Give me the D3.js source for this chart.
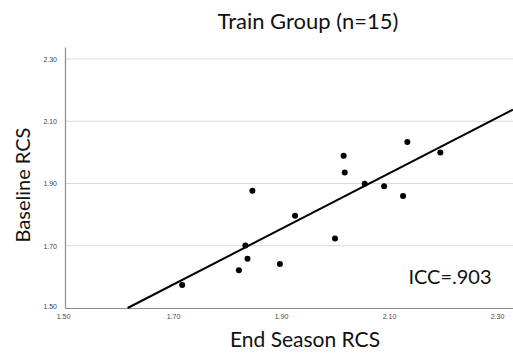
<!DOCTYPE html>
<html>
<head>
<meta charset="utf-8">
<script src="https://cdn.jsdelivr.net/npm/d3@7"></script>
<style>
  body { margin: 0; background: #fff; }
  svg { display: block; }
</style>
</head>
<body>
<svg id="chart"></svg>
<script>
// End season vs baseline RCS, train group
const endSeason = [1.717, 1.822, 1.838, 1.834, 1.847, 1.898, 1.926, 2.000,
  2.018, 2.016, 2.055, 2.091, 2.126, 2.134, 2.195];
const baseline = [1.574, 1.621, 1.658, 1.701, 1.877, 1.641, 1.796, 1.723,
  1.935, 1.989, 1.899, 1.891, 1.860, 2.033, 2.000];
const tickValues = [1.50, 1.70, 1.90, 2.10, 2.30];
const fitSlope = 0.893;
const fitAnchor = [1.616, 1.5];   // point the fit line passes through

const width = 513;
const height = 354;
const plotLeft = 65, plotBottom = 308, plotTop = 47;

const svg = d3.select('#chart')
  .attr('width', width)
  .attr('height', height);

const x = d3.scaleLinear()
  .domain([1.5, 2.3])
  .range([plotLeft, 497]);
const y = d3.scaleLinear()
  .domain([1.5, 2.3])
  .range([plotBottom, 59]);

const xMax = x.invert(width);
const yMax = y.invert(plotTop);

// horizontal grid lines
svg.append('g')
  .selectAll('line')
  .data(tickValues.slice(1))
  .join('line')
  .attr('x1', plotLeft)
  .attr('x2', width)
  .attr('y1', d => y(d))
  .attr('y2', d => y(d))
  .attr('stroke', '#d9d9d9')
  .attr('stroke-width', 1.2);

// axes
const xAxis = svg.append('g')
  .attr('transform', `translate(0, ${plotBottom})`)
  .call(d3.axisBottom(d3.scaleLinear().domain([1.5, xMax]).range([plotLeft, width]))
    .tickValues(tickValues).tickSize(0).tickPadding(6).tickFormat(d3.format('.2f')));
const yAxis = svg.append('g')
  .attr('transform', `translate(${plotLeft}, 0)`)
  .call(d3.axisLeft(d3.scaleLinear().domain([1.5, yMax]).range([plotBottom, plotTop]))
    .tickValues(tickValues).tickSize(0).tickPadding(8).tickFormat(d3.format('.2f')));

[xAxis, yAxis].forEach(g => {
  g.select('.domain').attr('stroke', '#8c8c8c').attr('stroke-width', 1.2);
  g.selectAll('text')
    .attr('font-family', 'Liberation Sans, Arial, sans-serif')
    .attr('font-size', 7)
    .attr('fill', '#444');
});
xAxis.selectAll('.tick').filter(d => d === 1.5)
  .select('text').attr('dx', -2);
yAxis.selectAll('.tick').filter(d => d === 1.5)
  .select('text').attr('dy', '0.1em');

// fit line
const lineY = v => fitAnchor[1] + fitSlope * (v - fitAnchor[0]);
svg.append('line')
  .attr('x1', x(fitAnchor[0]))
  .attr('y1', y(fitAnchor[1]))
  .attr('x2', x(xMax))
  .attr('y2', y(lineY(xMax)))
  .attr('stroke', '#000')
  .attr('stroke-width', 2);

// points
svg.append('g')
  .selectAll('circle')
  .data(endSeason.map((d, i) => ({x: d, y: baseline[i]})))
  .join('circle')
  .attr('cx', d => x(d.x))
  .attr('cy', d => y(d.y))
  .attr('r', 3)
  .attr('fill', '#000');

const font = 'Lato, "Open Sans", sans-serif';

svg.append('text')
  .attr('x', 308)
  .attr('y', 29)
  .attr('text-anchor', 'middle')
  .attr('font-family', font)
  .attr('font-size', 22)
  .attr('fill', '#111')
  .text('Train Group (n=15)');

svg.append('text')
  .attr('x', 305)
  .attr('y', 347)
  .attr('text-anchor', 'middle')
  .attr('font-family', font)
  .attr('font-size', 21)
  .attr('fill', '#111')
  .text('End Season RCS');

svg.append('text')
  .attr('transform', 'translate(30, 185) rotate(-90)')
  .attr('text-anchor', 'middle')
  .attr('font-family', font)
  .attr('font-size', 20)
  .attr('fill', '#111')
  .text('Baseline RCS');

svg.append('text')
  .attr('x', 450)
  .attr('y', 284)
  .attr('text-anchor', 'middle')
  .attr('font-family', font)
  .attr('font-size', 20)
  .attr('fill', '#111')
  .text('ICC=.903');
</script>
</body>
</html>
